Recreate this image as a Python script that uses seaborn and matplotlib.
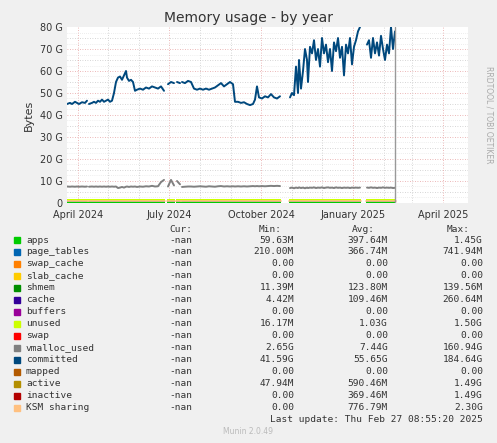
import matplotlib
matplotlib.use("Agg")
import matplotlib.pyplot as plt
import seaborn as sns
import pandas as pd
import numpy as np

START = pd.Timestamp("2024-03-21")

seg_days = [
    [0, 3, 5, 8, 10, 12, 15, 18, 20],
    [22, 25, 27, 29, 31, 33, 35, 37, 39, 41, 43, 45, 47, 49, 51, 53, 55, 57, 59, 60, 62, 64, 66, 68, 70, 73, 76, 79, 82, 85, 88, 91, 94, 97],
    [101, 104, 107],
    [110, 113],
    [115, 118, 121, 124, 127, 130, 133, 136, 139, 142, 145, 148, 151, 154, 157, 160, 163, 166, 168, 171, 174, 177, 180, 183, 186, 188, 190, 192, 195, 198, 201, 204, 207, 210, 213],
    [223, 225, 227, 229, 231, 232, 234, 236, 238, 240, 241, 243, 245, 247, 249, 251, 253, 255, 257, 259, 261, 263, 265, 267, 269, 271, 273, 275, 277, 279, 281, 283, 285, 287, 289, 291, 293],
    [300, 302, 304, 306, 308, 310, 312, 314, 316, 318, 320, 322, 324, 326, 328],
]
committed_vals = [
    [45, 45.5, 45, 46, 45.5, 45, 45.8, 45.5, 46.5],
    [45, 45.5, 46, 45.5, 46.5, 46, 47, 46, 46.5, 47, 46, 46.5, 50, 55, 57, 57.5, 56, 58, 60, 57, 55.5, 56, 55, 51, 51.5, 52, 51.5, 52.5, 52, 53, 52.5, 52, 53, 51],
    [54, 55, 54.5],
    [55, 54.5],
    [55, 54.5, 55.5, 55, 52, 51.5, 52, 51.5, 52, 51.5, 52, 52.5, 53.5, 54.5, 53, 54, 55, 54, 46, 46, 45.5, 45.8, 45, 44.5, 45, 47, 53, 48, 47.5, 48.5, 48, 49.5, 48, 47.5, 48.5],
    [48, 50, 49, 62, 50, 65, 52, 60, 70, 65, 55, 71, 68, 74, 65, 70, 62, 75, 68, 72, 64, 70, 60, 73, 69, 75, 66, 71, 58, 72, 68, 75, 63, 71, 74, 78, 80],
    [72, 74, 66, 75, 68, 73, 67, 76, 70, 65, 72, 68, 80, 70, 78],
]
vmalloc_vals = [
    [7.5, 7.4, 7.5, 7.4, 7.5, 7.4, 7.5, 7.4, 7.5],
    [7.4, 7.5, 7.4, 7.5, 7.4, 7.5, 7.4, 7.5, 7.4, 7.5, 7.4, 7.5, 7.4, 7.5, 6.8, 7.0, 7.3, 7.0, 7.4, 7.5, 7.3, 7.5, 7.4, 7.5, 7.3, 7.5, 7.4, 7.6, 7.5, 7.8, 7.5, 7.6, 9.5, 10.5],
    [7.5, 10.5, 8.0],
    [10.0, 8.5],
    [7.3, 7.4, 7.5, 7.5, 7.4, 7.5, 7.6, 7.5, 7.4, 7.6, 7.5, 7.4, 7.6, 7.7, 7.5, 7.6, 7.5, 7.6, 7.5, 7.6, 7.5, 7.6, 7.5, 7.6, 7.7, 7.6, 7.7, 7.6, 7.7, 7.6, 7.7, 7.8, 7.7, 7.8, 7.7],
    [6.8, 7.0, 6.7, 7.0, 6.8, 7.1, 6.8, 7.0, 6.7, 7.0, 6.8, 7.0, 6.9, 7.1, 6.8, 7.0, 6.9, 7.1, 6.8, 7.0, 7.1, 6.9, 7.0, 6.8, 7.1, 6.9, 7.0, 6.8, 7.0, 6.9, 7.0, 6.8, 7.0, 6.9, 7.0, 6.9, 7.0],
    [7.0, 6.9, 7.1, 6.9, 7.0, 6.8, 7.0, 6.9, 7.1, 6.9, 7.0, 6.9, 7.0, 6.8, 6.9],
]
stack_names = ["apps", "page_tables", "shmem", "cache", "unused"]
stack_vals = [0.4, 0.37, 0.12, 0.11, 1.0]

legend_names = ["apps", "page_tables", "swap_cache", "slab_cache", "shmem", "cache", "buffers",
                "unused", "swap", "vmalloc_used", "committed", "mapped", "active", "inactive", "KSM sharing"]
legend_colors = ["#00CC00", "#0066B3", "#FF8000", "#FFCC00", "#008F00", "#330099", "#990099",
                 "#CCFF00", "#FF0000", "#808080", "#00487D", "#B35A00", "#B38F00", "#B30000", "#FFC080"]
mins = ["59.63M", "210.00M", "0.00", "0.00", "11.39M", "4.42M", "0.00", "16.17M", "0.00", "2.65G", "41.59G", "0.00", "47.94M", "0.00", "0.00"]
avgs = ["397.64M", "366.74M", "0.00", "0.00", "123.80M", "109.46M", "0.00", "1.03G", "0.00", "7.44G", "55.65G", "0.00", "590.46M", "369.46M", "776.79M"]
maxs = ["1.45G", "741.94M", "0.00", "0.00", "139.56M", "260.64M", "0.00", "1.50G", "0.00", "160.94G", "184.64G", "0.00", "1.49G", "1.49G", "2.30G"]

rows = []
for s, (d, c, v) in enumerate(zip(seg_days, committed_vals, vmalloc_vals)):
    for di, ci, vi in zip(d, c, v):
        rows.append({"seg": s, "date": START + pd.Timedelta(days=di), "committed": ci, "vmalloc": vi})
df = pd.DataFrame(rows)

sns.set_style("white")
fig = plt.figure(figsize=(4.97, 4.43), dpi=100, facecolor="#F0F0F0")
W, H = 497, 443
ax = fig.add_axes([67 / W, (H - 203) / H, 401 / W, 176 / H])
ax.set_facecolor("white")

cols = {"apps": "#00CC00", "page_tables": "#0066B3", "shmem": "#008F00", "cache": "#330099", "unused": "#CCFF00"}
for s, d in enumerate(seg_days):
    x = [START + pd.Timedelta(days=di) for di in (d[0] - 1, d[-1] + 1)]
    base = 0
    for n, v in zip(stack_names, stack_vals):
        ax.fill_between(x, base, base + v, color=cols[n], lw=0)
        base += v
    ax.plot(x, [0.8, 0.8], color="#FFC080", lw=1.2)

sns.lineplot(data=df, x="date", y="vmalloc", units="seg", estimator=None, color="#808080", lw=1.4, ax=ax)
sns.lineplot(data=df, x="date", y="committed", units="seg", estimator=None, color="#00487D", lw=1.4, ax=ax)

ax.set_xlim(START, START + pd.Timedelta(days=401))
ax.set_ylim(0, 80)
ax.axvline(START + pd.Timedelta(days=328), color="#999999", lw=1)

for y in range(5, 80, 5):
    ax.axhline(y, color="#E6A0A0" if y % 10 == 0 else "#C8C8C8", lw=0.6, ls=(0, (1, 2)), zorder=0)
months = pd.date_range("2024-04-01", "2025-04-01", freq="MS")
for m in months:
    ax.axvline(m, color="#E6A0A0" if m.month in (1, 4, 7, 10) else "#C8C8C8", lw=0.6, ls=(0, (1, 2)), zorder=0)
for y in np.arange(2.5, 80, 5):
    ax.axhline(y, color="#DDDDDD", lw=0.5, ls=(0, (1, 2)), zorder=0)

ax.set_yticks(range(0, 81, 10))
ax.set_yticklabels(["0"] + [f"{v} G" for v in range(10, 81, 10)])
ticks = pd.to_datetime(["2024-04-01", "2024-07-01", "2024-10-01", "2025-01-01", "2025-04-01"])
ax.set_xticks(ticks)
ax.set_xticklabels(["April 2024", "July 2024", "October 2024", "January 2025", "April 2025"])
ax.tick_params(axis="y", labelsize=7, colors="#333333", length=0, pad=3)
ax.tick_params(axis="x", labelsize=7, colors="#333333", length=0, pad=5)
ax.set_xlabel("")
ax.set_ylabel("Bytes", fontsize=8, color="#333333")
for sp in ax.spines.values():
    sp.set_visible(False)

fig.text(0.5, 1 - 18 / H, "Memory usage - by year", ha="center", va="center", fontsize=10, color="#333333")
fig.text(489 / W, 1 - 115 / H, "RRDTOOL / TOBI OETIKER", rotation=270, ha="center", va="center", fontsize=5.5, color="#AAAAAA")

mono = "DejaVu Sans Mono"
def ty(y):
    return 1 - y / H
fs = 6.8
for xx, t in [(192, "Cur:"), (282, "Min:"), (375, "Avg:"), (470, "Max:")]:
    fig.text(xx / W, ty(229), t, ha="right", va="center", fontsize=fs, family=mono, color="#333333")
for i, n in enumerate(legend_names):
    y = 240 + i * 12
    fig.patches.append(plt.Rectangle((14 / W, ty(y + 3)), 6 / W, 6 / H, transform=fig.transFigure, color=legend_colors[i]))
    fig.text(26 / W, ty(y), n, ha="left", va="center", fontsize=fs, family=mono, color="#333333")
    fig.text(192 / W, ty(y), "-nan", ha="right", va="center", fontsize=fs, family=mono, color="#333333")
    fig.text(294 / W, ty(y), mins[i], ha="right", va="center", fontsize=fs, family=mono, color="#333333")
    fig.text(388 / W, ty(y), avgs[i], ha="right", va="center", fontsize=fs, family=mono, color="#333333")
    fig.text(483 / W, ty(y), maxs[i], ha="right", va="center", fontsize=fs, family=mono, color="#333333")
fig.text(483 / W, ty(420), "Last update: Thu Feb 27 08:55:20 2025", ha="right", va="center", fontsize=fs, family=mono, color="#333333")
fig.text(248 / W, ty(432), "Munin 2.0.49", ha="center", va="center", fontsize=5.5, color="#BBBBBB")

fig.savefig("out.png", dpi=100, facecolor=fig.get_facecolor())
